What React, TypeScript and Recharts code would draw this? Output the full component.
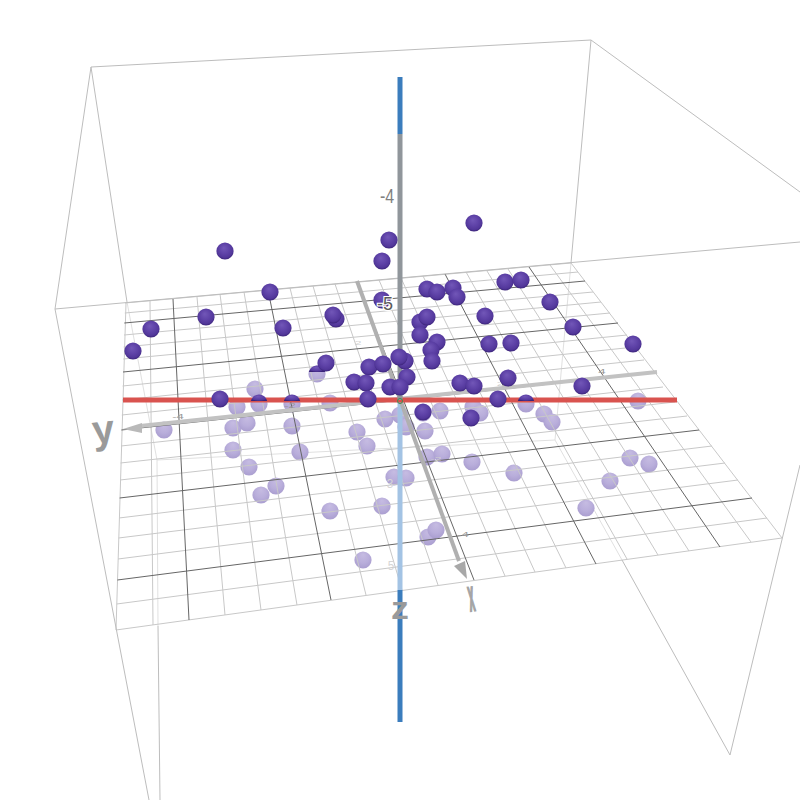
import React from "react";
import { ScatterChart, Scatter, XAxis, YAxis } from "recharts";

type P = { x: number; y: number; label?: string };
type Seg = [number, number, number, number];

// grid plane: lines from one edge to the opposite one, picture read positions
const depthBackX = [126,150,173,197,220,244,268,290,313,335,357,379,401,423,445,466,487,508,529,550,571];
const depthBackY = [303,301,299,297,294,292,290,288,286,284,282,280,278,276,274,272,271,269,267,265,263];
const depthFrontX = [116,153,189,225,261,297,331,366,402,438,474,505,535,566,596,627,658,689,720,751,782];
const depthFrontY = [630,625,620,615,610,605,600,595,590,585,580,576,572,568,564,559,555,551,547,542,538];
const crossLeftX = [125,124.8,124.3,124,123.7,123.3,123,122.6,122.2,121.8,121.4,121,120.5,120,119.6,119,118.5,118,117.4,116.7,116];
const crossLeftY = [303,313,323,335,347,359,372,386,400,415,430,446,463,480,498,518,538,559,580,604,630];
const crossRightX = [571,578,585,593,601,610,618,627,635,644,652,663,675,687,699,712,725,738,752,767,782];
const crossRightY = [263,272,281,292,302,313,323,335,347,360,373,387,402,416,430,446,463,480,498,518,538];
const majorLines = [2,6,10,14,18];

const boxLines: Seg[] = [
  [91,67,591,40],[91,67,55,309],[55,309,800,242],[591,40,800,192],
  [91,67,127,302],[591,40,571,263],[55,309,149,800],
  [158,626,160,800],[622,560,730,755],[730,755,800,465],
];
const boxLinesBehind: Seg[] = [
  [127,302,157,460],[157,460,158,626],[571,263,555,440],[555,440,622,560],[157,460,555,440],
];

const paleBalls: P[] = [
  {x:255,y:389},{x:237,y:407},{x:259,y:404},{x:292,y:404},{x:330,y:403},{x:164,y:430},{x:233,y:428},{x:247,y:423},
  {x:292,y:426},{x:357,y:432},{x:367,y:446},{x:385,y:419},{x:233,y:450},{x:300,y:452},{x:249,y:467},{x:276,y:486},
  {x:261,y:495},{x:330,y:511},{x:394,y:477},{x:406,y:478},{x:382,y:506},{x:363,y:560},{x:428,y:537},{x:436,y:530},
  {x:472,y:462},{x:514,y:473},{x:427,y:457},{x:442,y:454},{x:400,y:415},{x:406,y:427},{x:440,y:411},{x:425,y:431},
  {x:473,y:407},{x:480,y:413},{x:423,y:413},{x:638,y:401},{x:544,y:414},{x:552,y:422},{x:630,y:458},{x:649,y:464},
  {x:610,y:481},{x:586,y:508},{x:526,y:404},{x:317,y:374},
];
const purpleCaps: P[] = [{x:259,y:402},{x:292,y:402},{x:526,y:402},{x:317,y:373}];
const purpleBalls: P[] = [
  {x:225,y:251},{x:474,y:223},{x:389,y:240},{x:382,y:261},{x:270,y:292},{x:382,y:300},{x:427,y:289},{x:437,y:292},
  {x:453,y:288},{x:457,y:297},{x:505,y:282},{x:521,y:280},{x:550,y:302},{x:485,y:316},{x:573,y:327},{x:633,y:344},
  {x:151,y:329},{x:133,y:351},{x:206,y:317},{x:283,y:328},{x:336,y:319},{x:333,y:315},{x:420,y:322},{x:427,y:317},
  {x:420,y:335},{x:437,y:342},{x:431,y:350},{x:432,y:361},{x:489,y:344},{x:511,y:343},{x:326,y:363},{x:369,y:367},
  {x:383,y:364},{x:405,y:361},{x:399,y:357},{x:407,y:377},{x:354,y:382},{x:366,y:383},{x:390,y:387},{x:400,y:387},
  {x:460,y:383},{x:474,y:386},{x:508,y:378},{x:582,y:386},{x:220,y:399},{x:368,y:399},{x:498,y:399},{x:423,y:412},{x:471,y:418},
];

const axisXLine: Seg = [357,281,459,561];
const axisYLine: Seg = [140,426,657,372];
const redLine: Seg = [123,400,677,400];
const zBlueTop: Seg = [400,77,400,134];
const zGrey: Seg = [400,134,400,400];
const zPale: Seg = [400,400,400,590];
const zBlueBottom: Seg = [400,590,400,722];

const yName: P[] = [{x:103,y:429,label:"y"}];
const zName: P[] = [{x:400,y:608,label:"z"}];
const xName: P[] = [{x:471,y:596,label:"x"}];
const zTicks: P[] = [{x:387,y:196,label:"-4"}];
const zTickFront: P[] = [{x:385,y:304,label:"-5"}];
const flatDarkTicks: P[] = [{x:463,y:535,label:"-4"},{x:178,y:417,label:"-4"},{x:602,y:372,label:"4"},{x:290,y:406,label:"-2"}];
const flatPaleTicks: P[] = [{x:500,y:384,label:"2"},{x:358,y:343,label:"2"},{x:386,y:362,label:"-2"},{x:436,y:459,label:"-2"}];
const paleZTicks: P[] = [{x:390,y:484,label:"3"},{x:391,y:566,label:"5"}];

const pts = (s: Seg): P[] => [{ x: s[0], y: s[1] }, { x: s[2], y: s[3] }];
const none = () => <g />;
const FONT = "'Liberation Sans', Arial, sans-serif";

const ballShape = (fill: string) => (p: any) => <circle cx={p.cx} cy={p.cy} r={8.6} fill={fill} />;
const capShape = (p: any) => (
  <path d={`M${p.cx - 8.2} ${p.cy - 1}A8.4 8.4 0 0 1 ${p.cx + 8.2} ${p.cy - 1}Z`} fill="url(#purpleBall)" />
);
const textShape = (size: number, fill: string, weight: number, tf = "", stroke?: string, sw = 2) => (p: any) => (
  <text
    transform={`translate(${p.cx} ${p.cy}) ${tf}`}
    textAnchor="middle"
    dominantBaseline="central"
    fontFamily={FONT}
    fontSize={size}
    fontWeight={weight}
    fill={fill}
    stroke={stroke}
    strokeWidth={stroke ? sw : 0}
    paintOrder="stroke"
  >
    {p.payload.label}
  </text>
);
const arrowY = (p: any) => (
  <polygon points={`${p.cx},${p.cy} ${p.cx + 19},${p.cy - 6} ${p.cx + 19},${p.cy + 4}`} fill="#b9b9b9" />
);
const arrowX = (p: any) => (
  <polygon points={`${p.cx},${p.cy} ${p.cx - 13},${p.cy - 13} ${p.cx - 2},${p.cy - 18}`} fill="#a8a8a8" />
);
const originShape = (p: any) => <circle cx={p.cx} cy={p.cy} r={2.5} fill="none" stroke="#3f8f4f" strokeWidth={1} />;

const seg = (key: string, s: Seg, stroke: string, width: number) => (
  <Scatter
    key={key}
    data={pts(s)}
    line={{ stroke, strokeWidth: width }}
    shape={none}
    isAnimationActive={false}
  />
);

export default function App() {
  return (
    <div style={{ position: "absolute", left: 0, top: 0, width: 800, height: 800, overflow: "hidden", background: "#fff" }}>
      <svg width={0} height={0} style={{ position: "absolute" }}>
        <defs>
          <radialGradient id="purpleBall" cx="50%" cy="42%" r="58%" fx="42%" fy="32%">
            <stop offset="0%" stopColor="#7257b8" />
            <stop offset="50%" stopColor="#5f43a8" />
            <stop offset="82%" stopColor="#52379a" />
            <stop offset="100%" stopColor="#3a2378" />
          </radialGradient>
          <radialGradient id="paleBall" cx="50%" cy="42%" r="58%" fx="50%" fy="18%">
            <stop offset="0%" stopColor="#c6bce2" />
            <stop offset="60%" stopColor="#b9aedb" />
            <stop offset="100%" stopColor="#aa9ed0" />
          </radialGradient>
        </defs>
      </svg>
      <ScatterChart width={800} height={800} margin={{ top: 0, right: 0, bottom: 0, left: 0 }}>
        <XAxis type="number" dataKey="x" domain={[0, 800]} hide allowDataOverflow />
        <YAxis type="number" dataKey="y" domain={[0, 800]} reversed hide allowDataOverflow />
        {boxLinesBehind.map((s, i) => seg(`bb${i}`, s, "#e0e0e0", 1))}
        <Scatter data={paleBalls} shape={ballShape("url(#paleBall)")} isAnimationActive={false} />
        {depthBackX.map((_, i) =>
          majorLines.includes(i) ? null : seg(`d${i}`, [depthBackX[i], depthBackY[i], depthFrontX[i], depthFrontY[i]], "#c8c8c8", 1)
        )}
        {crossLeftX.map((_, i) =>
          majorLines.includes(i) ? null : seg(`c${i}`, [crossLeftX[i], crossLeftY[i], crossRightX[i], crossRightY[i]], "#c8c8c8", 1)
        )}
        {majorLines.map((i) => seg(`dm${i}`, [depthBackX[i], depthBackY[i], depthFrontX[i], depthFrontY[i]], "#666666", 1))}
        {majorLines.map((i) => seg(`cm${i}`, [crossLeftX[i], crossLeftY[i], crossRightX[i], crossRightY[i]], "#666666", 1))}
        {boxLines.map((s, i) => seg(`b${i}`, s, "#bdbdbd", 1))}
        {seg("zp", zPale, "#a3c3e4", 5)}
        {seg("zb", zBlueBottom, "#3b7dbd", 5)}
        <Scatter data={flatPaleTicks} shape={textShape(11, "#d0d0d0", 400, "scale(1.1 0.55)")} isAnimationActive={false} />
        <Scatter data={paleZTicks} shape={textShape(13, "#d6d6d6", 400, "scale(0.9 1)")} isAnimationActive={false} />
        <Scatter data={flatDarkTicks} shape={textShape(12, "#9a9a9a", 400, "scale(1.1 0.55)")} isAnimationActive={false} />
        {seg("ax", axisXLine, "#b0b0b0", 4)}
        <Scatter data={[{ x: 467, y: 579 }]} shape={arrowX} isAnimationActive={false} />
        {seg("ay", axisYLine, "#c2c2c2", 4)}
        <Scatter data={[{ x: 123, y: 429 }]} shape={arrowY} isAnimationActive={false} />
        {seg("red", redLine, "#d9534f", 5)}
        {seg("zbt", zBlueTop, "#3b7dbd", 5)}
        {seg("zg", zGrey, "#90969b", 5)}
        <Scatter data={[{ x: 400, y: 401 }]} shape={originShape} isAnimationActive={false} />
        <Scatter data={purpleCaps} shape={capShape} isAnimationActive={false} />
        <Scatter data={purpleBalls} shape={ballShape("url(#purpleBall)")} isAnimationActive={false} />
        <Scatter data={yName} shape={textShape(40, "#9a9a9a", 700, "rotate(-6)")} isAnimationActive={false} />
        <Scatter data={zName} shape={textShape(34, "#9a9a9a", 700, "scale(1.05 0.9)")} isAnimationActive={false} />
        <Scatter data={xName} shape={textShape(18, "#a4a4a4", 700, "rotate(-8) scale(0.55 2.4)", "#a4a4a4", 1.2)} isAnimationActive={false} />
        <Scatter data={zTicks} shape={textShape(20, "#808080", 400, "scale(0.8 1)")} isAnimationActive={false} />
        <Scatter data={zTickFront} shape={textShape(20, "#5a5a5a", 400, "scale(0.9 0.9)", "#ffffff", 2.5)} isAnimationActive={false} />
      </ScatterChart>
    </div>
  );
}
